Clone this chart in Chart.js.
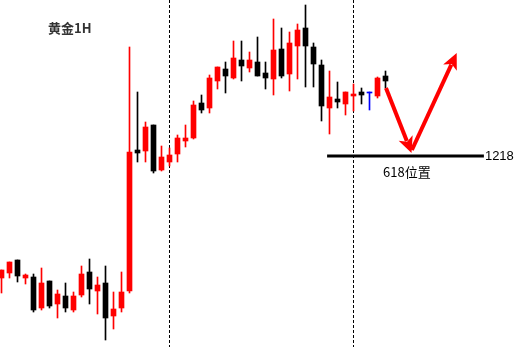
<!DOCTYPE html>
<html>
<head>
<meta charset="utf-8">
<script src="https://cdn.jsdelivr.net/npm/chart.js@4.4.0/dist/chart.umd.min.js"></script>
<style>
  html, body { margin: 0; padding: 0; background: #fff; }
  canvas { display: block; }
</style>
</head>
<body>
<canvas id="goldChart" width="515" height="347"></canvas>
<script>
// Gold 1H candles
const opens  = [1205.8, 1206.3, 1207.6, 1205.8, 1205.9, 1202.8, 1205.5, 1203.2, 1204.0, 1202.6,
                1204.1, 1206.4, 1204.5, 1205.3, 1202.0, 1202.8, 1204.5, 1218.6, 1218.5, 1221.1,
                1216.6, 1217.4, 1218.2, 1219.5, 1219.8, 1223.3, 1222.8, 1225.5, 1226.7, 1225.8,
                1227.6, 1226.8, 1227.4, 1226.3, 1225.7, 1228.7, 1226.2, 1229.0, 1230.8, 1228.9,
                1227.1, 1222.8, 1223.7, 1223.2, 1224.0, 1224.4, 1224.3, 1224.0, 1226.0];
const highs  = [1206.6, 1207.4, 1207.6, 1206.2, 1206.2, 1206.8, 1205.5, 1204.6, 1205.3, 1204.4,
                1207.0, 1207.7, 1205.9, 1207.0, 1204.4, 1206.4, 1228.9, 1224.4, 1221.4, 1221.1,
                1219.0, 1218.8, 1220.1, 1221.1, 1223.5, 1224.1, 1226.1, 1226.9, 1227.4, 1229.5,
                1229.5, 1228.4, 1229.9, 1227.4, 1231.7, 1230.8, 1230.4, 1231.2, 1233.1, 1229.3,
                1227.6, 1226.5, 1225.4, 1224.4, 1225.2, 1224.8, 1224.4, 1225.9, 1226.5];
const lows   = [1204.3, 1205.8, 1205.4, 1205.2, 1202.4, 1202.6, 1202.8, 1201.8, 1202.4, 1202.4,
                1203.9, 1203.2, 1202.2, 1199.6, 1200.7, 1202.4, 1204.3, 1217.4, 1217.4, 1216.3,
                1216.5, 1217.0, 1217.4, 1218.9, 1219.7, 1222.3, 1222.3, 1224.7, 1224.3, 1225.7,
                1225.5, 1226.4, 1226.0, 1224.7, 1224.1, 1225.8, 1224.5, 1225.7, 1224.9, 1224.9,
                1221.5, 1220.2, 1222.8, 1222.1, 1222.5, 1223.2, 1222.6, 1223.8, 1224.8];
const closes = [1206.6, 1207.4, 1206.0, 1206.1, 1202.6, 1205.3, 1203.0, 1204.2, 1202.8, 1204.0,
                1206.2, 1204.7, 1205.1, 1201.8, 1202.7, 1204.4, 1218.4, 1218.3, 1220.9, 1216.5,
                1217.9, 1218.1, 1219.8, 1219.8, 1223.1, 1222.6, 1225.8, 1226.9, 1226.0, 1227.8,
                1227.0, 1227.6, 1226.0, 1225.8, 1228.6, 1226.0, 1229.3, 1230.6, 1229.0, 1227.2,
                1223.0, 1223.9, 1223.4, 1224.4, 1224.2, 1224.1, 1224.3, 1225.8, 1225.5];

// Annotations
const level = 1218;
const levelFrom = 40.7;
const levelTo = 60.3;
const markerBars = [21, 44];
const arrowDownX = [48.06, 51.25];
const arrowDownY = [1224.8, 1218.3];
const arrowUpX = [51.3, 56.9];
const arrowUpY = [1218.6, 1228.3];

const UP = "#ff0000";
const DOWN = "#000000";
const FLAT = "#0000ff";

function candleColor(i) {
  if (closes[i] > opens[i]) return UP;
  if (closes[i] < opens[i]) return DOWN;
  return FLAT;
}

const bodies = opens.map((o, i) => ({ x: i, y: [o, closes[i]] }));
const wicks = lows.map((l, i) => ({ x: i, y: [l, highs[i]] }));

// dashed separators, arrows and labels
const extras = {
  id: "extras",
  beforeDatasetsDraw(chart) {
    const { ctx, chartArea } = chart;
    const xs = chart.scales.x;
    ctx.save();
    ctx.strokeStyle = "#000";
    ctx.lineWidth = 1;
    ctx.setLineDash([3, 2]);
    markerBars.forEach(b => {
      const px = xs.getPixelForValue(b);
      ctx.beginPath();
      ctx.moveTo(px, chartArea.top);
      ctx.lineTo(px, chartArea.bottom);
      ctx.stroke();
    });
    ctx.restore();
  },
  afterDatasetsDraw(chart) {
    const { ctx } = chart;
    const xs = chart.scales.x;
    const ys = chart.scales.y;

    function arrow(ax, ay) {
      const x0 = xs.getPixelForValue(ax[0]), y0 = ys.getPixelForValue(ay[0]);
      const x1 = xs.getPixelForValue(ax[1]), y1 = ys.getPixelForValue(ay[1]);
      const ang = Math.atan2(y1 - y0, x1 - x0);
      const headLen = 16, headW = 7.5;
      ctx.save();
      ctx.strokeStyle = "#ff0000";
      ctx.fillStyle = "#ff0000";
      ctx.lineWidth = 4;
      ctx.beginPath();
      ctx.moveTo(x0, y0);
      ctx.lineTo(x1 - Math.cos(ang) * headLen * 0.8, y1 - Math.sin(ang) * headLen * 0.8);
      ctx.stroke();
      const bx = x1 - Math.cos(ang) * headLen, by = y1 - Math.sin(ang) * headLen;
      ctx.beginPath();
      ctx.moveTo(x1, y1);
      ctx.lineTo(bx + Math.sin(ang) * headW, by - Math.cos(ang) * headW);
      ctx.lineTo(x1 - Math.cos(ang) * headLen * 0.75, y1 - Math.sin(ang) * headLen * 0.75);
      ctx.lineTo(bx - Math.sin(ang) * headW, by + Math.cos(ang) * headW);
      ctx.closePath();
      ctx.fill();
      ctx.restore();
    }
    arrow(arrowDownX, arrowDownY);
    arrow(arrowUpX, arrowUpY);

    ctx.save();
    ctx.textBaseline = "middle";
    ctx.font = "bold 13px 'Noto Sans CJK SC', 'DejaVu Sans', sans-serif";
    ctx.fillStyle = "#333";
    ctx.fillText("黄金1H", 48, 28);
    ctx.fillStyle = "#000";
    ctx.font = "13px 'Liberation Sans', sans-serif";
    ctx.fillText(String(level), xs.getPixelForValue(levelTo) + 1, ys.getPixelForValue(level));
    ctx.font = "13px 'Noto Sans CJK SC', 'DejaVu Sans', sans-serif";
    ctx.fillText("618位置", 383, ys.getPixelForValue(level) + 16);
    ctx.restore();
  }
};

const ctx = document.getElementById("goldChart").getContext("2d");
const goldChart = new Chart(ctx, {
  type: "bar",
  data: {
    datasets: [
      {
        label: "body",
        data: bodies,
        backgroundColor: bodies.map((d, i) => candleColor(i)),
        barThickness: 5,
        minBarLength: 1,
        grouped: false
      },
      {
        label: "wick",
        data: wicks,
        backgroundColor: wicks.map((d, i) => candleColor(i)),
        barThickness: 1,
        grouped: false
      },
      {
        type: "line",
        label: "level",
        data: [{ x: levelFrom, y: level }, { x: levelTo, y: level }],
        borderColor: "#000",
        borderWidth: 3,
        pointRadius: 0
      }
    ]
  },
  options: {
    responsive: false,
    animation: false,
    devicePixelRatio: 1,
    layout: { padding: 0 },
    plugins: { legend: { display: false }, tooltip: { enabled: false } },
    scales: {
      x: { type: "linear", display: false, offset: false, bounds: "data", min: -0.1875, max: 64.1875 },
      y: { type: "linear", display: false, bounds: "data", min: 1198.9, max: 1233.6 }
    }
  },
  plugins: [extras]
});
</script>
</body>
</html>
